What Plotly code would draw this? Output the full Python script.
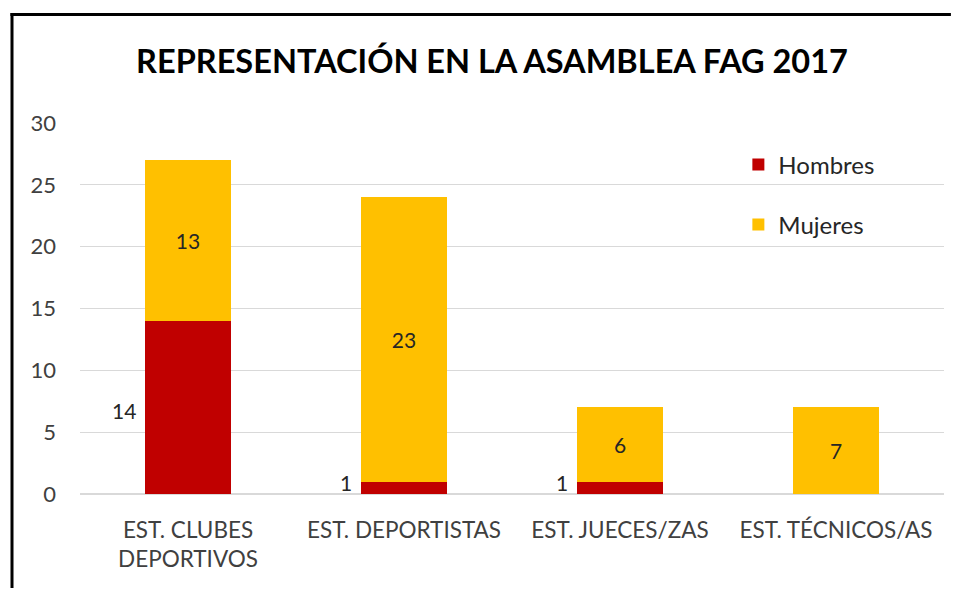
import plotly.graph_objects as go

categories = ["EST. CLUBES<br>DEPORTIVOS", "EST. DEPORTISTAS", "EST. JUECES/ZAS", "EST. TÉCNICOS/AS"]
hombres = [14, 1, 1, 0]
mujeres = [13, 23, 6, 7]
title_text = "REPRESENTACIÓN EN LA ASAMBLEA FAG 2017"

FONT = "Lato, 'Open Sans', sans-serif"

fig = go.Figure()
fig.add_trace(go.Bar(
    name="Hombres", x=categories, y=hombres, legendgroup="h",
    marker=dict(color="#C00000", line=dict(width=0)),
    width=0.4,
))
fig.add_trace(go.Bar(
    name="Mujeres", x=categories, y=mujeres, legendgroup="m",
    marker=dict(color="#FFC000", line=dict(width=0)),
    width=0.4,
    text=[str(v) for v in mujeres], textposition="inside",
    insidetextanchor="middle",
    textfont=dict(color="#262626", size=21, family=FONT),
))

# Hombres labels placed to the left of their segment
for c, v in zip(categories, hombres):
    if v > 0:
        fig.add_annotation(x=c, y=v / 2, text=str(v), showarrow=False,
                           xanchor="right", xshift=-50, yshift=-3 if v > 2 else 5,
                           font=dict(size=21, color="#262626", family=FONT))

# frame (left and top)
fig.add_shape(type="line", xref="paper", yref="paper",
              x0=-0.0787, x1=-0.0787, y0=-0.3, y1=1.2965,
              line=dict(color="black", width=3))
fig.add_shape(type="line", xref="paper", yref="paper",
              x0=-0.0805, x1=1.008, y0=1.2925, y1=1.2925,
              line=dict(color="black", width=3))

fig.update_layout(
    width=943, height=580,
    margin=dict(l=72, r=7, t=115, b=94),
    paper_bgcolor="white", plot_bgcolor="white",
    barmode="stack", bargap=0.6,
    title=dict(text="<b>" + title_text + "</b>", x=(484 - 72) / 864, xref="paper", xanchor="center",
               y=1 - 54 / 580, yanchor="middle",
               font=dict(size=32.5, color="black", family=FONT)),
    font=dict(family=FONT, color="#404040"),
    legend=dict(x=0.762, y=0.948, xanchor="left", yanchor="top",
                bgcolor="rgba(0,0,0,0)", font=dict(size=24, color="#262626", family=FONT),
                tracegroupgap=26, itemsizing="constant", traceorder="grouped"),
    showlegend=True,
)
fig.update_yaxes(range=[0, 30], dtick=5, showgrid=True, gridcolor="#D9D9D9",
                 gridwidth=1, zeroline=True, zerolinecolor="#D9D9D9", zerolinewidth=1.5,
                 tickfont=dict(size=22, color="#404040", family=FONT),
                 ticks="", ticklabelstandoff=23, showline=False)
fig.update_xaxes(tickfont=dict(size=22.5, color="#404040", family=FONT),
                 ticks="", showline=False, ticklabelstandoff=20)

fig.write_html("out.html")
